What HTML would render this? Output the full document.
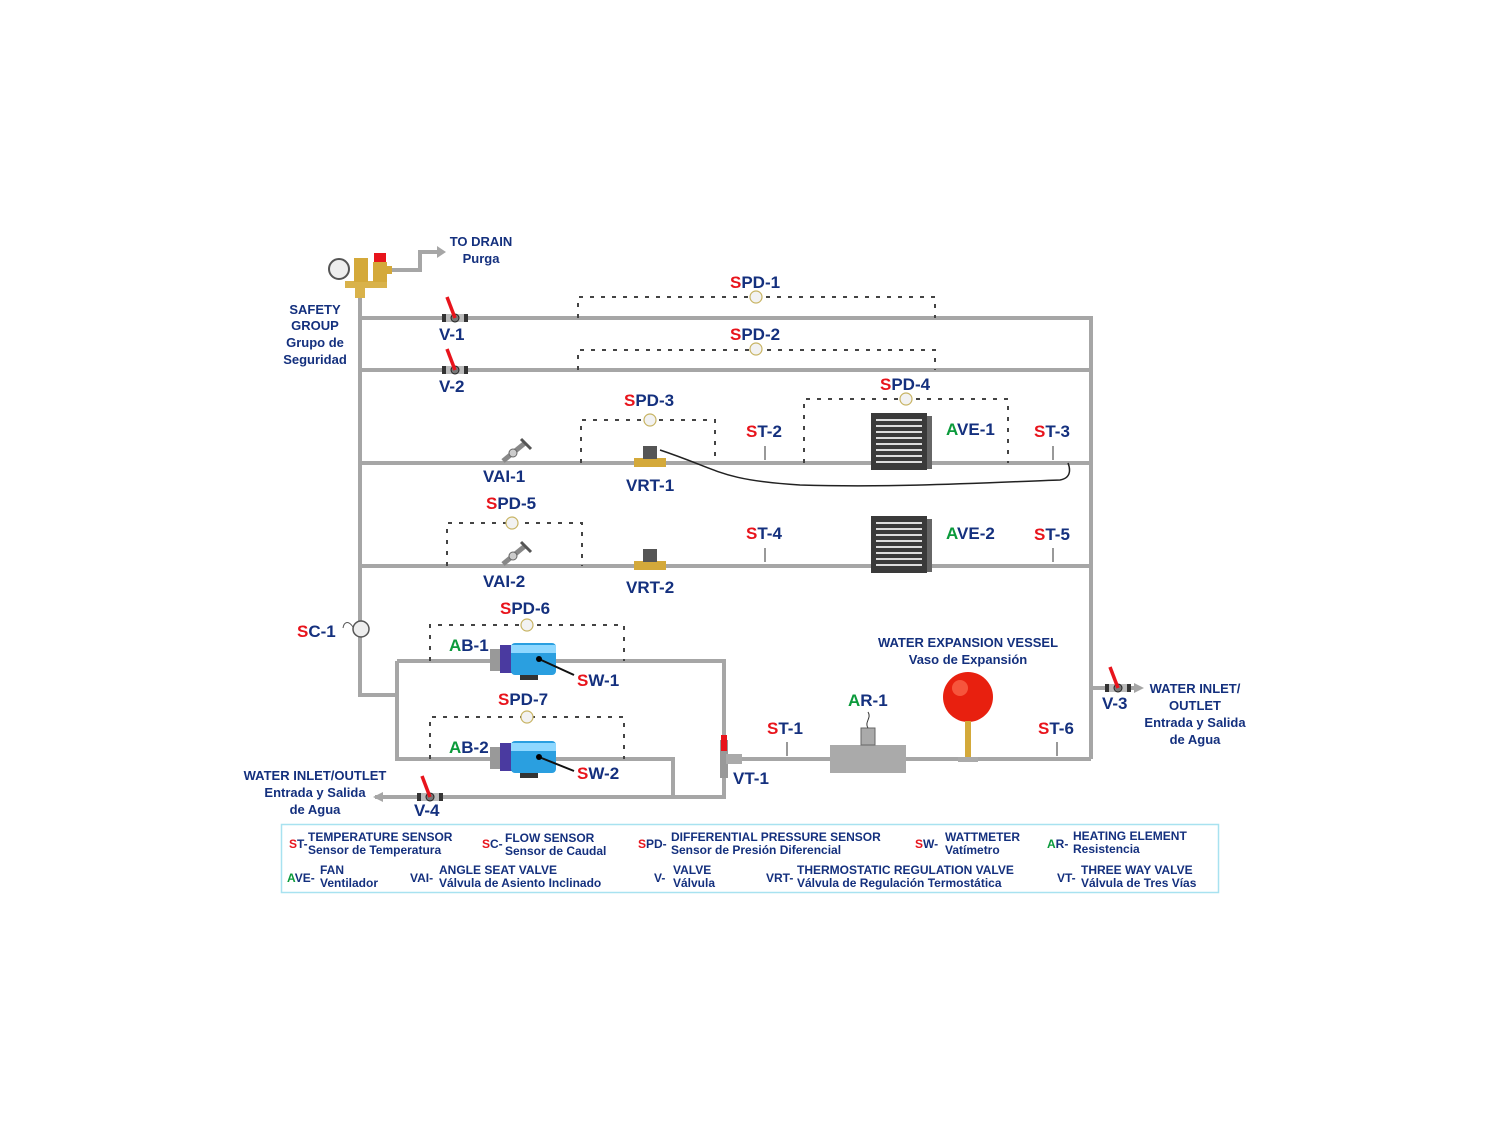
<!DOCTYPE html>
<html><head><meta charset="utf-8"><style>
html,body{margin:0;padding:0;background:#fff;}
svg{display:block}
text{font-family:"Liberation Sans",sans-serif;font-weight:bold;fill:#14307e}
.r{fill:#e8141c}.g{fill:#0b9a3b}
.l{font-size:17px}.s{font-size:12px}.t{font-size:13px}
.p{stroke:#a6a6a6;stroke-width:4;fill:none}
.d{stroke:#444;stroke-width:2;stroke-dasharray:4 7;fill:none}
.c{fill:#f2f2f2;stroke:#c8b464;stroke-width:1.2}
</style></head><body>
<svg width="1500" height="1125" viewBox="0 0 1500 1125">
<defs>
<g id="valve"><rect x="-12" y="-4" width="24" height="8" fill="#bbb"/><rect x="-13" y="-4" width="4" height="8" fill="#333"/><rect x="9" y="-4" width="4" height="8" fill="#333"/><circle cx="0" cy="0" r="4" fill="#777" stroke="#222"/><line x1="0" y1="0" x2="-8" y2="-21" stroke="#e8141c" stroke-width="3.5"/></g>
<g id="fan"><rect x="0" y="0" width="56" height="57" fill="#3a3a3a"/><rect x="56" y="3" width="5" height="53" fill="#666"/>
<g stroke="#ddd" stroke-width="2"><line x1="5" y1="7" x2="51" y2="7"/><line x1="5" y1="13" x2="51" y2="13"/><line x1="5" y1="19" x2="51" y2="19"/><line x1="5" y1="25" x2="51" y2="25"/><line x1="5" y1="31" x2="51" y2="31"/><line x1="5" y1="37" x2="51" y2="37"/><line x1="5" y1="43" x2="51" y2="43"/><line x1="5" y1="49" x2="51" y2="49"/></g></g>
<g id="pump"><rect x="-30" y="-10" width="12" height="22" fill="#999"/><rect x="-20" y="-14" width="12" height="28" fill="#4a3aa0"/><rect x="-9" y="-16" width="45" height="32" rx="4" fill="#2a9fe0"/><rect x="-9" y="-14" width="45" height="8" fill="#8fd8ff"/><rect x="0" y="16" width="18" height="5" fill="#333"/></g>
<g id="st"><line x1="0" y1="0" x2="0" y2="14" stroke="#999" stroke-width="2"/></g>
<g id="vai"><line x1="-12" y1="0" x2="10" y2="-18" stroke="#888" stroke-width="5"/><line x1="6" y1="-22" x2="16" y2="-12" stroke="#555" stroke-width="3"/><circle cx="-2" cy="-8" r="4" fill="#ccc" stroke="#666"/></g>
</defs>

<path class="p" d="M360 285 V695 H397 M360 318 H1091 V759 M360 370 H1091 M360 463 H1091 M360 566 H1091"/>
<path class="p" d="M397 661 H724 V797 H375 M397 661 V759 H673 V797 M724 759 H1091 M1091 688 H1135"/>
<path class="p" d="M390 270 H420 V252 H437"/>
<polygon points="437,246 446,252 437,258" fill="#a6a6a6"/>
<polygon points="1134,683 1144,688 1134,693" fill="#a6a6a6"/>
<polygon points="383,792 373,797 383,802" fill="#a6a6a6"/>

<path class="d" d="M578 318 V297 H935 V318"/><circle class="c" cx="756" cy="297" r="6"/>
<path class="d" d="M578 370 V350 H935 V370"/><circle class="c" cx="756" cy="349" r="6"/>
<path class="d" d="M581 463 V420 H715 V463"/><circle class="c" cx="650" cy="420" r="6"/>
<path class="d" d="M804 463 V399 H1008 V463"/><circle class="c" cx="906" cy="399" r="6"/>
<path class="d" d="M447 566 V523 H582 V566"/><circle class="c" cx="512" cy="523" r="6"/>
<path class="d" d="M430 661 V625 H624 V661"/><circle class="c" cx="527" cy="625" r="6"/>
<path class="d" d="M430 759 V717 H624 V759"/><circle class="c" cx="527" cy="717" r="6"/>

<rect x="345" y="281" width="42" height="7" fill="#d9b24a"/><rect x="355" y="288" width="10" height="10" fill="#d9b24a"/>
<circle cx="339" cy="269" r="10" fill="#eee" stroke="#555" stroke-width="2"/>
<rect x="354" y="258" width="14" height="24" fill="#d4a93a"/><rect x="373" y="262" width="14" height="20" fill="#d4a93a"/><rect x="374" y="253" width="12" height="9" fill="#e8141c"/>
<rect x="386" y="266" width="6" height="8" fill="#d4a93a"/>

<use href="#valve" x="455" y="318"/><use href="#valve" x="455" y="370"/>
<use href="#valve" x="430" y="797"/><use href="#valve" x="1118" y="688"/>
<use href="#vai" x="515" y="461"/><use href="#vai" x="515" y="564"/>
<rect x="634" y="458" width="32" height="9" fill="#d4a93a"/><rect x="643" y="446" width="14" height="13" fill="#555"/>
<rect x="634" y="561" width="32" height="9" fill="#d4a93a"/><rect x="643" y="549" width="14" height="13" fill="#555"/>
<path d="M660 450 C720 470 720 480 800 485 C900 488 1000 482 1060 480 C1072 478 1070 468 1068 463" stroke="#222" stroke-width="1.5" fill="none"/>
<use href="#fan" x="871" y="413"/><use href="#fan" x="871" y="516"/>
<use href="#st" x="765" y="446"/><use href="#st" x="1053" y="446"/><use href="#st" x="765" y="548"/><use href="#st" x="1053" y="548"/><use href="#st" x="787" y="742"/><use href="#st" x="1057" y="742"/>
<use href="#pump" x="520" y="659"/><use href="#pump" x="520" y="757"/>
<line x1="539" y1="659" x2="574" y2="675" stroke="#111" stroke-width="2"/><circle cx="539" cy="659" r="3"/>
<line x1="539" y1="757" x2="574" y2="771" stroke="#111" stroke-width="2"/><circle cx="539" cy="757" r="3"/>
<circle cx="361" cy="629" r="8" fill="#eee" stroke="#555" stroke-width="1.5"/><path d="M353 627 C348 620 344 622 343 628" stroke="#555" fill="none"/>
<rect x="720" y="740" width="8" height="38" fill="#999"/><rect x="726" y="754" width="16" height="10" fill="#aaa"/><rect x="721" y="735" width="6" height="16" fill="#e8141c"/>
<rect x="830" y="745" width="76" height="28" fill="#aaa"/><rect x="861" y="728" width="14" height="17" fill="#aaa" stroke="#666"/><path d="M868 728 C864 722 872 718 868 712" stroke="#333" fill="none"/>
<circle cx="968" cy="697" r="25" fill="#e8200f"/><circle cx="960" cy="688" r="8" fill="#ff7a5a" opacity=".6"/>
<rect x="965" y="721" width="6" height="36" fill="#d4a93a"/><rect x="958" y="757" width="20" height="5" fill="#aaa"/>

<text class="t" x="481" y="246" text-anchor="middle">TO DRAIN</text><text class="t" x="481" y="263" text-anchor="middle">Purga</text>
<text class="t" x="315" y="314" text-anchor="middle">SAFETY</text><text class="t" x="315" y="330" text-anchor="middle">GROUP</text><text class="t" x="315" y="347" text-anchor="middle">Grupo de</text><text class="t" x="315" y="364" text-anchor="middle">Seguridad</text>
<text class="l" x="730" y="288"><tspan class="r">S</tspan>PD-1</text>
<text class="l" x="730" y="340"><tspan class="r">S</tspan>PD-2</text>
<text class="l" x="439" y="340">V-1</text><text class="l" x="439" y="392">V-2</text>
<text class="l" x="624" y="406"><tspan class="r">S</tspan>PD-3</text>
<text class="l" x="880" y="390"><tspan class="r">S</tspan>PD-4</text>
<text class="l" x="746" y="437"><tspan class="r">S</tspan>T-2</text>
<text class="l" x="946" y="435"><tspan class="g">A</tspan>VE-1</text>
<text class="l" x="1034" y="437"><tspan class="r">S</tspan>T-3</text>
<text class="l" x="483" y="482">VAI-1</text><text class="l" x="626" y="491">VRT-1</text>
<text class="l" x="486" y="509"><tspan class="r">S</tspan>PD-5</text>
<text class="l" x="746" y="539"><tspan class="r">S</tspan>T-4</text>
<text class="l" x="946" y="539"><tspan class="g">A</tspan>VE-2</text>
<text class="l" x="1034" y="540"><tspan class="r">S</tspan>T-5</text>
<text class="l" x="483" y="587">VAI-2</text><text class="l" x="626" y="593">VRT-2</text>
<text class="l" x="500" y="614"><tspan class="r">S</tspan>PD-6</text>
<text class="l" x="297" y="637"><tspan class="r">S</tspan>C-1</text>
<text class="l" x="449" y="651"><tspan class="g">A</tspan>B-1</text>
<text class="l" x="577" y="686"><tspan class="r">S</tspan>W-1</text>
<text class="l" x="498" y="705"><tspan class="r">S</tspan>PD-7</text>
<text class="l" x="449" y="753"><tspan class="g">A</tspan>B-2</text>
<text class="l" x="577" y="779"><tspan class="r">S</tspan>W-2</text>
<text class="l" x="733" y="784">VT-1</text>
<text class="l" x="767" y="734"><tspan class="r">S</tspan>T-1</text>
<text class="l" x="848" y="706"><tspan class="g">A</tspan>R-1</text>
<text class="l" x="1038" y="734"><tspan class="r">S</tspan>T-6</text>
<text class="l" x="1102" y="709">V-3</text>
<text class="l" x="414" y="816">V-4</text>
<text class="t" x="968" y="647" text-anchor="middle">WATER EXPANSION VESSEL</text><text class="t" x="968" y="664" text-anchor="middle">Vaso de Expansión</text>
<text class="t" x="1195" y="693" text-anchor="middle">WATER INLET/</text><text class="t" x="1195" y="710" text-anchor="middle">OUTLET</text><text class="t" x="1195" y="727" text-anchor="middle">Entrada y Salida</text><text class="t" x="1195" y="744" text-anchor="middle">de Agua</text>
<text class="t" x="315" y="780" text-anchor="middle">WATER INLET/OUTLET</text><text class="t" x="315" y="797" text-anchor="middle">Entrada y Salida</text><text class="t" x="315" y="814" text-anchor="middle">de Agua</text>

<rect x="281.5" y="824.5" width="937" height="68" fill="#fff" stroke="#a8e2f0" stroke-width="1.5"/>
<text class="s" x="289" y="848"><tspan class="r">S</tspan>T-</text><text class="s" x="308" y="841">TEMPERATURE SENSOR</text><text class="s" x="308" y="854">Sensor de Temperatura</text>
<text class="s" x="482" y="848"><tspan class="r">S</tspan>C-</text><text class="s" x="505" y="842">FLOW SENSOR</text><text class="s" x="505" y="855">Sensor de Caudal</text>
<text class="s" x="638" y="848"><tspan class="r">S</tspan>PD-</text><text class="s" x="671" y="841">DIFFERENTIAL PRESSURE SENSOR</text><text class="s" x="671" y="854">Sensor de Presión Diferencial</text>
<text class="s" x="915" y="848"><tspan class="r">S</tspan>W-</text><text class="s" x="945" y="841">WATTMETER</text><text class="s" x="945" y="854">Vatímetro</text>
<text class="s" x="1047" y="848"><tspan class="g">A</tspan>R-</text><text class="s" x="1073" y="840">HEATING ELEMENT</text><text class="s" x="1073" y="853">Resistencia</text>
<text class="s" x="287" y="882"><tspan class="g">A</tspan>VE-</text><text class="s" x="320" y="874">FAN</text><text class="s" x="320" y="887">Ventilador</text>
<text class="s" x="410" y="882">VAI-</text><text class="s" x="439" y="874">ANGLE SEAT VALVE</text><text class="s" x="439" y="887">Válvula de Asiento Inclinado</text>
<text class="s" x="654" y="882">V-</text><text class="s" x="673" y="874">VALVE</text><text class="s" x="673" y="887">Válvula</text>
<text class="s" x="766" y="882">VRT-</text><text class="s" x="797" y="874">THERMOSTATIC REGULATION VALVE</text><text class="s" x="797" y="887">Válvula de Regulación Termostática</text>
<text class="s" x="1057" y="882">VT-</text><text class="s" x="1081" y="874">THREE WAY VALVE</text><text class="s" x="1081" y="887">Válvula de Tres Vías</text>
</svg>
</body></html>
